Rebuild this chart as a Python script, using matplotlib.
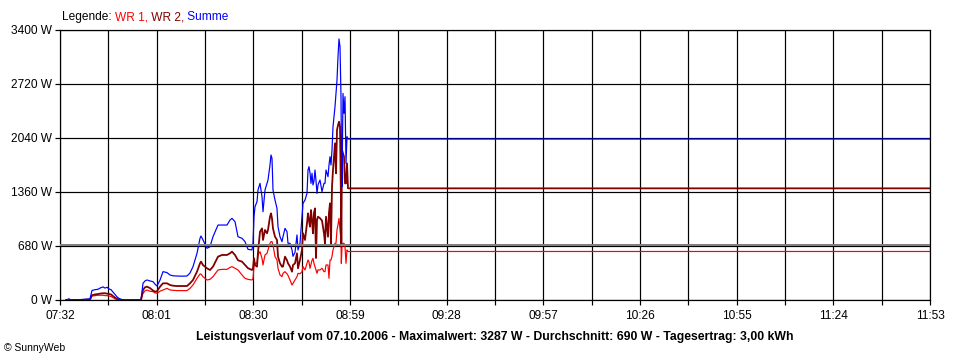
import matplotlib
matplotlib.use("Agg")
import matplotlib.pyplot as plt
from matplotlib.ticker import FixedLocator

plt.rcParams["font.family"] = ["Liberation Sans", "DejaVu Sans"]

# time of day in minutes since midnight (07:32 = 452), power in W
minutes = [453.8, 454.7, 455.3, 458.0, 459.8, 461.0, 461.6, 462.5, 463.4, 464.0,
           464.9, 465.5, 466.1, 466.7, 467.3, 467.9, 468.5, 469.1, 469.7, 470.3,
           471.2, 476.3, 476.9, 477.5, 478.1, 479.0, 479.9, 480.5, 481.1, 482.0,
           482.9, 484.1, 485.0, 485.9, 487.1, 488.6, 490.1, 491.0, 491.9, 493.1,
           494.0, 494.3, 494.9, 496.1, 497.0, 497.9, 499.4, 500.6, 502.1, 503.0,
           503.6, 504.5, 505.4, 506.6, 507.5, 508.4, 509.6, 509.9, 510.2, 510.5,
           511.1, 511.4, 512.0, 512.6, 512.9, 513.5, 514.1, 514.4, 515.0, 515.3,
           515.6, 515.9, 516.5, 517.1, 517.4, 518.0, 518.6, 518.9, 519.5, 520.1,
           520.4, 521.0, 521.6, 521.9, 522.5, 523.1, 523.4, 524.0, 524.6, 524.9,
           525.5, 526.1, 526.4, 526.7, 527.0, 527.3, 527.6, 527.9, 528.2, 528.5,
           528.8, 529.1, 529.4, 530.0, 530.6, 531.2, 531.5, 531.8, 532.4, 532.7,
           533.0, 533.3, 533.6, 533.9, 534.5, 534.8, 535.1, 535.4, 535.7, 536.0,
           536.3, 536.4, 536.6, 536.9, 537.2, 537.5, 537.8, 538.1, 538.4, 713.0]
summe = [0, 15, 0, 5, 10, 15, 120, 130, 135, 150,
         165, 150, 160, 140, 130, 100, 70, 40, 20, 10,
         0, 0, 210, 240, 252, 240, 231, 200, 175, 250,
         357, 345, 315, 305, 302, 300, 302, 340, 420, 588,
         777, 806, 756, 651, 671, 797, 944, 944, 944, 1007,
         1028, 986, 797, 777, 735, 638, 630, 716, 1049, 1175,
         1238, 1385, 1469, 1301, 1112, 1385, 1469, 1511, 1700, 1826,
         1784, 1385, 1259, 1154, 923, 797, 735, 797, 902, 860,
         714, 714, 630, 550, 600, 819, 630, 714, 1049, 1217,
         1259, 1343, 1637, 1679, 1600, 1469, 1595, 1448, 1500, 1637,
         1500, 1343, 1450, 1511, 1364, 1469, 1469, 1637, 1553, 1700,
         1805, 1700, 1889, 2182, 2434, 2600, 2770, 3064, 3287, 3190,
         2560, 2015, 1427, 2602, 2350, 2560, 1721, 2056, 2027, 2027]
wr2 = [0, 0, 0, 0, 5, 5, 60, 70, 75, 80,
       85, 85, 80, 75, 70, 50, 30, 15, 5, 0,
       0, 0, 126, 160, 168, 150, 120, 105, 110, 168,
       210, 210, 189, 180, 176, 176, 176, 210, 252, 357,
       462, 483, 440, 399, 378, 420, 546, 567, 567, 588,
       609, 567, 500, 483, 441, 400, 378, 399, 525, 440,
       420, 600, 860, 902, 756, 882, 840, 882, 1049, 1091,
       1028, 900, 797, 756, 546, 462, 420, 420, 546, 500,
       462, 420, 357, 440, 462, 588, 399, 504, 630, 840,
       756, 966, 1091, 1000, 923, 1133, 1000, 840, 1100, 1154,
       529, 1007, 1049, 1030, 1000, 840, 714, 1049, 797, 1100,
       1217, 714, 1427, 1637, 1973, 1595, 2141, 2200, 2245, 2182,
       1217, 671, 1889, 1847, 1805, 1469, 1469, 1721, 1406, 1406]
wr1 = [0, 0, 0, 0, 5, 5, 50, 55, 60, 60,
       60, 55, 55, 50, 45, 30, 15, 5, 0, 0,
       0, 0, 84, 115, 126, 110, 105, 90, 84, 110,
       126, 147, 126, 122, 118, 118, 118, 147, 189, 273,
       327, 327, 294, 252, 260, 294, 378, 386, 386, 410,
       420, 400, 378, 315, 273, 260, 252, 270, 420, 462,
       462, 567, 609, 525, 441, 567, 588, 630, 714, 735,
       735, 693, 546, 504, 399, 315, 294, 336, 357, 330,
       310, 252, 189, 210, 250, 294, 336, 330, 357, 420,
       378, 462, 504, 480, 399, 450, 500, 525, 460, 420,
       380, 336, 380, 378, 400, 357, 357, 441, 441, 273,
       504, 504, 550, 630, 714, 714, 882, 950, 1028, 882,
       756, 462, 671, 714, 714, 671, 462, 630, 611, 611]
average_w = 690

x_labels = ["07:32", "08:01", "08:30", "08:59", "09:28",
            "09:57", "10:26", "10:55", "11:24", "11:53"]
y_values = [0, 680, 1360, 2040, 2720, 3400]

def to_min(s):
    h, m = s.split(":")
    return int(h) * 60 + int(m)

x_major = [to_min(s) for s in x_labels]
x_minor = [(a + b) / 2 for a, b in zip(x_major[:-1], x_major[1:])]

PX = 0.72  # one pixel in points at dpi 100
FS = 8.6
fig = plt.figure(figsize=(9.6, 3.6), dpi=100, facecolor="white")
ax = fig.add_axes([60 / 960, 60 / 360, 870 / 960, 270 / 360])
ax.set_xlim(x_major[0], x_major[-1])
ax.set_ylim(0, 3400)

ax.xaxis.set_major_locator(FixedLocator(x_major))
ax.xaxis.set_minor_locator(FixedLocator(x_minor))
ax.set_xticklabels(x_labels)
ax.set_yticks(y_values)
ax.set_yticklabels([f"{v} W" for v in y_values])
ax.grid(which="both", axis="x", color="black", lw=1.2 * PX, zorder=1)
ax.grid(which="major", axis="y", color="black", lw=1.2 * PX, zorder=1)
ax.set_axisbelow(True)
ax.tick_params(which="both", direction="out", length=5 * PX, width=1.2 * PX,
               colors="black", labelsize=FS)
ax.tick_params(axis="x", which="both", pad=3.5)
ax.tick_params(axis="y", pad=2)
for s in ax.spines.values():
    s.set_color("black")
    s.set_linewidth(1.2 * PX)

ax.plot(minutes, wr1, color="#ff0000", lw=1.2 * PX, zorder=3)
ax.plot(minutes, wr2, color="#800000", lw=1.8 * PX, zorder=3)
ax.plot(minutes, summe, color="#0000ff", lw=1.2 * PX, zorder=3)
ax.axhline(average_w, color="#808080", lw=2.0 * PX, zorder=4)

# multi-coloured legend line, pieces chained one after the other
t = fig.text(62 / 960, 1 - 17 / 360, "Legende: ", fontsize=FS, va="center", color="black")
for label, col in (("WR 1,", "#ff0000"), (" WR 2,", "#800000"), (" Summe", "#0000ff")):
    t = ax.annotate(label, xy=(1, 0), xycoords=t, va="bottom", ha="left",
                    fontsize=FS, color=col, annotation_clip=False)

fig.text(495 / 960, 1 - 337 / 360,
         "Leistungsverlauf vom 07.10.2006 - Maximalwert: 3287 W - Durchschnitt: 690 W - Tagesertrag: 3,00 kWh",
         ha="center", va="center", fontsize=8.8, fontweight="bold")
fig.text(4 / 960, 1 - 348 / 360, "\u00a9 SunnyWeb", ha="left", va="center", fontsize=7.5)

fig.savefig("out.png", dpi=100, facecolor="white")
